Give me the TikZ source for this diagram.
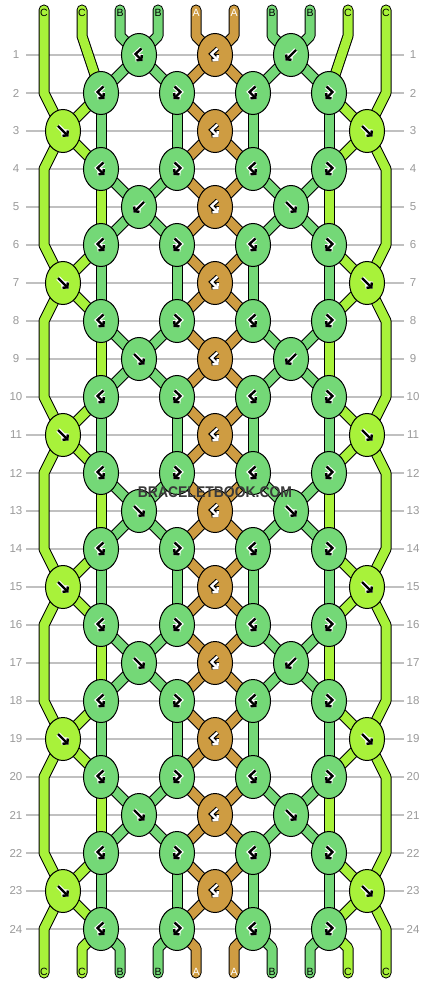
\documentclass[tikz,border=0pt]{standalone}
\usepackage{fontspec}
\setmainfont{Liberation Sans}
\usepackage{graphicx}
\usetikzlibrary{shapes.geometric,arrows.meta}
\definecolor{lim}{HTML}{A8F23A}
\definecolor{grn}{HTML}{74D877}
\definecolor{org}{HTML}{CE9C42}
\definecolor{gridc}{HTML}{C0C0C0}
\definecolor{labc}{HTML}{9A9A9A}
\definecolor{wmc}{HTML}{3A3A3A}
\pgfdeclarelayer{back}
\pgfdeclarelayer{strandl}
\pgfsetlayers{back,strandl,main}
\tikzset{
 knot/.style={ellipse, draw=black, line width=1, minimum width=35, minimum height=43, inner sep=0},
 rowlab/.style={inner sep=0, text=labc, font=\fontsize{11.5}{12}\selectfont},
 endlab/.style={inner sep=0, font=\fontsize{10.5}{11}\selectfont},
 gridline/.style={draw=gridc, line width=1.3},
 outlinepass/.style={sty/.style={draw=black, line width=11, line cap=round, line join=round}},
 fillpass/.style={sty/.style={draw=##1, line width=9, line cap=round, line join=round}},
 gl/.style={line width=2.4, line cap=butt, line join=miter, -{Straight Barb[length=3.2,width=7.5]}},
 glyph under/.style={draw=white, line width=4.6},
 glyph over/.style={draw=black},
 inv/.style={glyph under/.style={draw=black, line width=4.6}, glyph over/.style={draw=white}},
 pics/arF/.style={code={\draw[gl,glyph under] (-5,-5) -- (5.5,5.5); \draw[gl,glyph over] (-5,-5) -- (5.5,5.5);}},
 pics/arB/.style={code={\draw[gl,glyph under] (5,-5) -- (-5.5,5.5); \draw[gl,glyph over] (5,-5) -- (-5.5,5.5);}},
 pics/arBF/.style={code={\draw[gl,glyph under] (2.5,-6.5) -- (-3.5,-1) -- (3.5,6); \draw[gl,glyph over] (2.5,-6.5) -- (-3.5,-1) -- (3.5,6);}},
 pics/arFB/.style={code={\draw[gl,glyph under] (-2.5,-6.5) -- (3.5,-1) -- (-3.5,6); \draw[gl,glyph over] (-2.5,-6.5) -- (3.5,-1) -- (-3.5,6);}},
}
\newcommand\allstrands{%
 \draw[sty=lim] (t1) -- ++(0,83) -- (k3-0.center);
 \draw[sty=lim] (t2) -- ++(0,26) -- (k2-1.center);
 \draw[sty=grn] (t3) -- ++(0,26) -- (k1-2.center);
 \draw[sty=grn] (t4) -- ++(0,26) -- (k1-2.center);
 \draw[sty=org] (t5) -- ++(0,26) -- (k1-4.center);
 \draw[sty=org] (t6) -- ++(0,26) -- (k1-4.center);
 \draw[sty=grn] (t7) -- ++(0,26) -- (k1-6.center);
 \draw[sty=grn] (t8) -- ++(0,26) -- (k1-6.center);
 \draw[sty=lim] (t9) -- ++(0,26) -- (k2-7.center);
 \draw[sty=lim] (t10) -- ++(0,83) -- (k3-8.center);
 \foreach \r [evaluate=\r as \n using int(\r+1)] in {1,5,...,21} {
  \foreach \a/\b/\cl in {2/1/grn,2/3/grn,4/3/org,4/5/org,6/5/grn,6/7/grn}
   \draw[sty=\cl] (k\r-\a.center) -- (k\n-\b.center);
 }
 \foreach \r [evaluate=\r as \n using int(\r+1)] in {4,8,...,20} {
  \foreach \a/\b/\cl in {1/2/grn,3/2/grn,3/4/org,5/4/org,5/6/grn,7/6/grn}
   \draw[sty=\cl] (k\r-\a.center) -- (k\n-\b.center);
 }
 \foreach \r [evaluate=\r as \n using int(\r+1)] in {3,7,...,23} {
  \foreach \a/\b/\cl in {0/1/lim,4/3/org,4/5/org,8/7/lim}
   \draw[sty=\cl] (k\r-\a.center) -- (k\n-\b.center);
 }
 \foreach \r [evaluate=\r as \n using int(\r+1)] in {2,6,...,22} {
  \foreach \a/\b/\cl in {1/0/lim,3/4/org,5/4/org,7/8/lim}
   \draw[sty=\cl] (k\r-\a.center) -- (k\n-\b.center);
 }
 \foreach \r [evaluate=\r as \n using int(\r+2)] in {4,8,...,20} {
  \draw[sty=lim] (k\r-1.center) -- (k\n-1.center);
  \draw[sty=lim] (k\r-7.center) -- (k\n-7.center);
 }
 \foreach \r [evaluate=\r as \n using int(\r+2)] in {2,6,...,22} {
  \foreach \j in {1,3,5,7}
   \draw[sty=grn] (k\r-\j.center) -- (k\n-\j.center);
 }
 \foreach \r [evaluate=\r as \n using int(\r+4)] in {3,7,...,19} {
  \draw[sty=lim] (k\r-0.center) -- ++(-19,38) -- ++(0,76) -- (k\n-0.center);
  \draw[sty=lim] (k\r-8.center) -- ++(19,38) -- ++(0,76) -- (k\n-8.center);
 }
 \draw[sty=lim] (k23-0.center) -- ++(-19,38) -- (b1);
 \draw[sty=lim] (k24-1.center) -- ++(-19,19) -- (b2);
 \draw[sty=grn] (k24-1.center) -- ++(19,19) -- (b3);
 \draw[sty=grn] (k24-3.center) -- ++(-19,19) -- (b4);
 \draw[sty=org] (k24-3.center) -- ++(19,19) -- (b5);
 \draw[sty=org] (k24-5.center) -- ++(-19,19) -- (b6);
 \draw[sty=grn] (k24-5.center) -- ++(19,19) -- (b7);
 \draw[sty=grn] (k24-7.center) -- ++(-19,19) -- (b8);
 \draw[sty=lim] (k24-7.center) -- ++(19,19) -- (b9);
 \draw[sty=lim] (k23-8.center) -- ++(19,38) -- (b10);
}
\begin{document}
\begin{tikzpicture}[x=1pt,y=-1pt]
\begin{pgfonlayer}{back}
 \fill[white] (0,0) rectangle (430,984);
 \foreach \r in {1,...,24}
  \draw[gridline] (26,{55+38*(\r-1)}) -- (404,{55+38*(\r-1)});
\end{pgfonlayer}
\useasboundingbox (0,0) rectangle (430,984);
\foreach \r in {1,...,24} {
 \node[rowlab] (rl\r) at (16,{55+38*(\r-1)}) {\r};
 \node[rowlab] (rr\r) at (413,{55+38*(\r-1)}) {\r};
}
% knots
\foreach \r in {1,5,...,21} {
 \foreach \j/\cl in {2/grn,4/org,6/grn}
  \node[knot,fill=\cl] (k\r-\j) at ({63+38*\j},{55+38*(\r-1)}) {};
}
\foreach \r in {3,7,...,23} {
 \foreach \j/\cl in {0/lim,4/org,8/lim}
  \node[knot,fill=\cl] (k\r-\j) at ({63+38*\j},{55+38*(\r-1)}) {};
}
\foreach \r in {2,4,...,24} {
 \foreach \j in {1,3,5,7}
  \node[knot,fill=grn] (k\r-\j) at ({63+38*\j},{55+38*(\r-1)}) {};
}
% strand ends
\foreach \i/\l/\cl in {1/C/black,2/C/black,3/B/black,4/B/black,5/A/white,6/A/white,7/B/black,8/B/black,9/C/black,10/C/black} {
 \coordinate (t\i) at ({44+38*(\i-1)},10);
 \coordinate (b\i) at ({44+38*(\i-1)},973);
 \node[endlab,text=\cl] (lt\i) at ({44+38*(\i-1)},12.5) {\l};
 \node[endlab,text=\cl] (lb\i) at ({44+38*(\i-1)},972) {\l};
}
% strands
\begin{pgfonlayer}{strandl}
 \begin{scope}[outlinepass]\allstrands\end{scope}
 \begin{scope}[fillpass]\allstrands\end{scope}
\end{pgfonlayer}
% arrows
\foreach \r in {2,4,...,24} {
 \pic at (k\r-1) {arBF};
 \pic at (k\r-3) {arFB};
 \pic at (k\r-5) {arBF};
 \pic at (k\r-7) {arFB};
}
\foreach \r in {1,3,...,23} { \pic[inv] at (k\r-4) {arBF}; }
\foreach \r in {3,7,...,23} {
 \pic at (k\r-0) {arF};
 \pic at (k\r-8) {arF};
}
\pic at (k1-2) {arBF};  \pic at (k1-6) {arB};
\pic at (k5-2) {arB};   \pic at (k5-6) {arF};
\pic at (k9-2) {arF};   \pic at (k9-6) {arB};
\pic at (k13-2) {arF};  \pic at (k13-6) {arF};
\pic at (k17-2) {arF};  \pic at (k17-6) {arB};
\pic at (k21-2) {arF};  \pic at (k21-6) {arF};
% watermark
\node[inner sep=0, text=wmc, font=\fontsize{15.5}{16}\selectfont\bfseries] (wm) at (215,492.5) {\scalebox{0.9}[1]{BRACELETBOOK.COM}};
\end{tikzpicture}
\end{document}
